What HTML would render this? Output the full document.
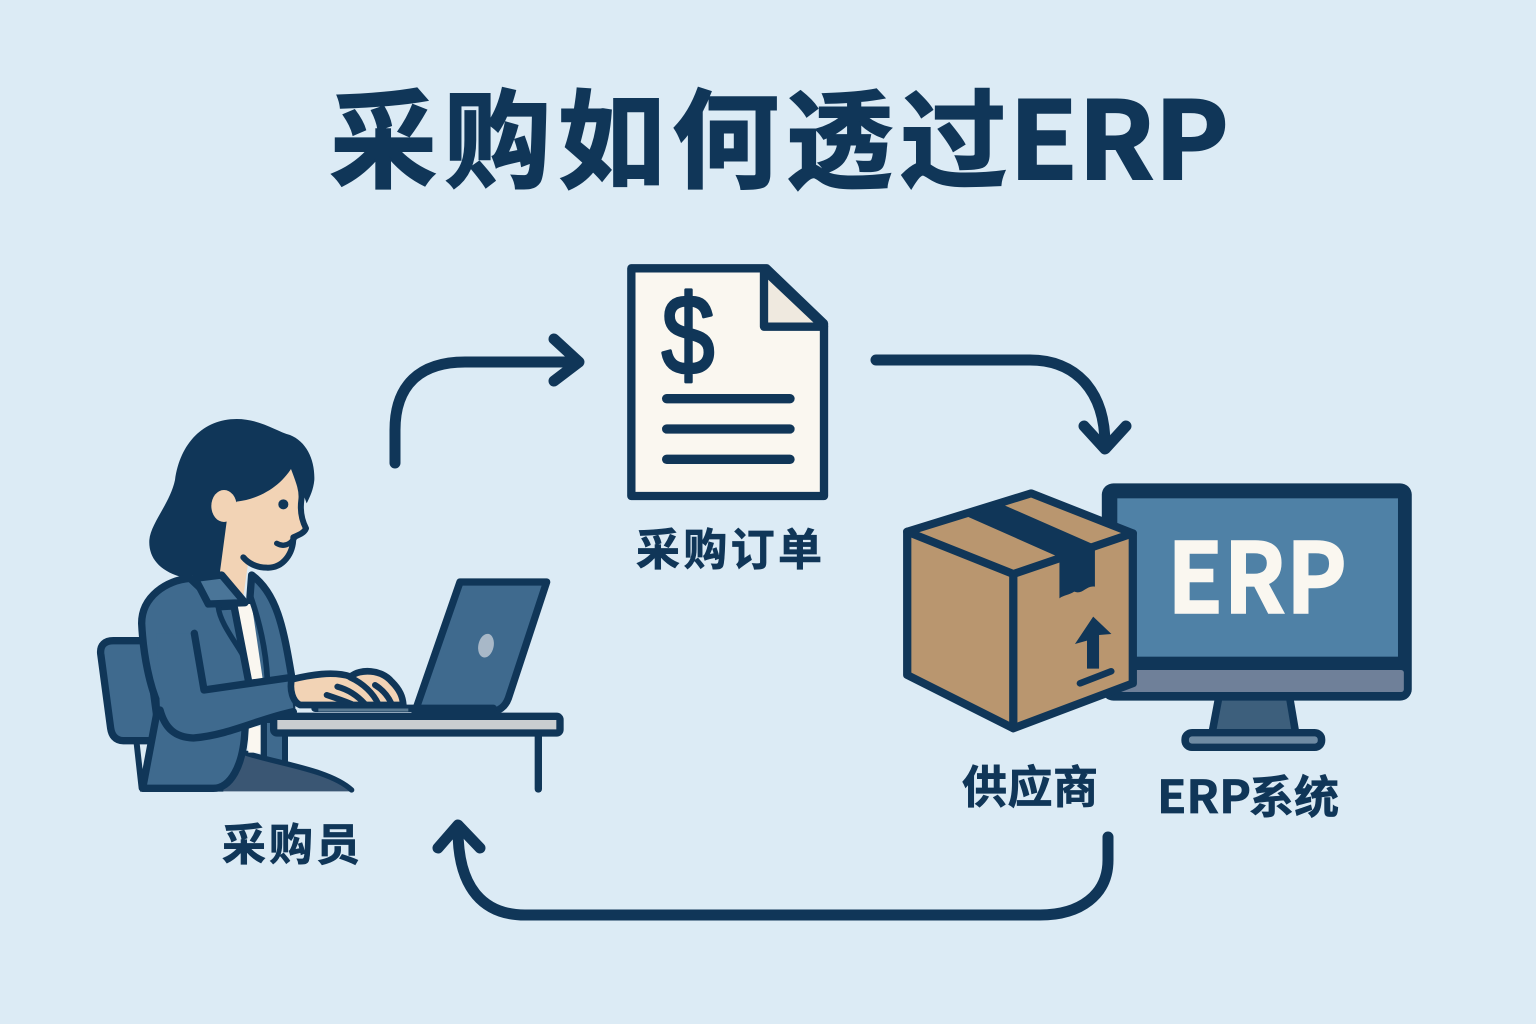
<!DOCTYPE html>
<html lang="zh-CN">
<head>
<meta charset="utf-8">
<title>采购如何透过ERP</title>
<style>
html,body{margin:0;padding:0;background:#dcebf5;width:1536px;height:1024px;overflow:hidden}
svg{display:block}
text{font-family:"Liberation Sans","Noto Sans CJK SC",sans-serif}
.c{font-family:"Noto Sans CJK SC","Liberation Sans",sans-serif;font-weight:700;fill:#103658;stroke:#103658;stroke-width:.7px}
.t{stroke-width:2px}
</style>
</head>
<body>
<svg xmlns="http://www.w3.org/2000/svg" width="1536" height="1024" viewBox="0 0 1536 1024">
<rect width="1536" height="1024" fill="#dcebf5"/>

<!-- title -->
<text class="c t" x="330" y="179" font-size="107" textLength="677" lengthAdjust="spacing">采购如何透过</text>
<text class="c t" x="1009" y="179" font-size="107" textLength="220" lengthAdjust="spacingAndGlyphs">ERP</text>

<!-- arrows -->
<g fill="none" stroke="#103658" stroke-width="11" stroke-linecap="round" stroke-linejoin="round">
<path d="M395,463 V430 C395,385 420,362 465,362 H575"/>
<path d="M554,339 L579,362 L554,381"/>
<path d="M876,360 H1030 C1075,360 1105,390 1105,445"/>
<path d="M1084,426 L1105,449 L1126,426"/>
<path d="M1108,837 V860 C1108,895 1080,915 1040,915 H525 C485,915 458,890 458,830"/>
<path d="M438,848 L458,825 L480,848"/>
</g>

<!-- document -->
<g transform="translate(610,250) scale(.33333)" stroke="#103658" stroke-linejoin="round" stroke-linecap="round">
<path d="M64,55 H470 L642,220 V738 H64 Z" fill="#faf7f0" stroke-width="25"/>
<path d="M462,60 V230 H642 Z" fill="#efe9df" stroke-width="25"/>
<g fill="none" stroke-width="28">
<path d="M170,446 H540"/>
<path d="M170,537 H540"/>
<path d="M170,628 H540"/>
</g>
</g>
<text transform="translate(688,374) scale(.84,1)" text-anchor="middle" font-size="113" fill="#103658" stroke="#103658" stroke-width="3.2" stroke-linejoin="round" style="font-family:'Liberation Sans',sans-serif">$</text>
<text class="c" x="636" y="565" font-size="44" textLength="186" lengthAdjust="spacing">采购订单</text>

<!-- person -->
<g transform="translate(80,400) scale(.33333)" stroke="#103658" stroke-width="22" stroke-linejoin="round" stroke-linecap="round">
<!-- chair -->
<path d="M62,760 C60,735 75,722 100,722 H200 L240,1022 H130 C105,1022 95,1005 92,985 Z" fill="#3f6a8e"/>
<path d="M170,1030 L185,1165" fill="none" stroke-width="18"/>
<!-- lower right jacket panel -->
<path d="M552,960 V1080 L615,1095 V960 Z" fill="#3f6a8e" stroke-width="18"/>
<!-- pants -->
<path d="M420,1174 L500,1058 C600,1092 750,1110 822,1174 Z" fill="#3a5673" stroke="none"/>
<path d="M500,1060 C600,1092 750,1110 815,1170" fill="none" stroke-width="16"/>
<!-- hair -->
<path d="M300,530 C235,510 205,470 208,420 C212,370 270,310 285,240 C300,130 370,57 470,57 C540,57 590,95 630,105 C680,125 705,180 703,240 C700,270 690,290 680,310 L640,200 L430,520 Z" fill="#103658" stroke="none"/>
<!-- neck and face -->
<path d="M640,195 C650,220 664,250 664,290 C655,320 662,350 675,385 L640,405 C640,460 610,505 560,503 C540,503 520,495 505,485 L490,590 L420,515 L440,365 L470,305 C550,295 610,250 640,195 Z" fill="#f2d3b5" stroke="none"/>
<path d="M640,200 C655,240 668,270 664,300 C660,330 665,360 678,385 C672,400 655,405 640,412 C640,460 610,505 560,503 C530,503 505,490 490,472" fill="none" stroke-width="18"/>
<path d="M590,430 C610,442 630,435 645,412" fill="none" stroke-width="16"/>
<ellipse cx="432" cy="318" rx="38" ry="48" fill="#f2d3b5" stroke="none"/>
<path d="M470,305 L440,365 L455,360 Z" fill="#f2d3b5" stroke="none"/>
<circle cx="610" cy="313" r="15" fill="#103658" stroke="none"/>
<!-- jacket right panel upper -->
<path d="M515,525 C590,580 610,680 635,830 V930 H510 V590 Z" fill="#3f6a8e"/>
<!-- shirt -->
<path d="M465,612 L515,612 L550,850 H505 Z" fill="#faf7f0" stroke="none"/>
<path d="M505,980 H542 V1058 H505 Z" fill="#faf7f0" stroke="none"/>
<path d="M512,590 C540,670 558,750 562,838" fill="none" stroke-width="17"/>
<path d="M550,975 V1070" fill="none" stroke-width="16"/>
<!-- jacket body -->
<path d="M330,535 C260,540 185,590 185,670 C190,770 210,860 235,915 L188,1165 H400 C450,1165 490,1100 495,990 L505,840 L462,618 L420,620 Z" fill="#3f6a8e"/>
<!-- collar -->
<path d="M345,535 L425,525 L495,608 L385,612 Z" fill="#4a7598"/>
<path d="M415,622 C420,670 470,730 492,772" fill="none" stroke-width="16"/>
<!-- sleeve -->
<path d="M343,700 L375,870 L632,832 L640,930 C560,950 480,1000 340,1012 C280,1012 255,980 240,930 L230,700 Z" fill="#3f6a8e" stroke="none"/>
<path d="M343,700 L372,870 L635,832" fill="none"/>
<path d="M240,930 C255,985 285,1012 340,1014 C450,1005 540,955 640,935" fill="none"/>
<!-- hand -->
<path d="M635,838 C690,825 760,812 812,830 C840,805 905,808 935,845 C960,870 968,890 970,915 H660 C638,905 628,870 635,838 Z" fill="#f2d3b5" stroke-width="20"/>
<g fill="none" stroke-width="18">
<path d="M740,885 C770,895 790,902 815,912"/>
<path d="M772,860 C810,870 835,890 855,912"/>
<path d="M810,832 C850,850 880,880 895,912"/>
<path d="M885,855 C910,870 925,890 935,912"/>
</g>
<!-- laptop lid -->
<path d="M1140,546 H1400 L1285,895 C1275,922 1255,935 1230,935 H1005 Z" fill="#3f6a8e"/>
<ellipse cx="1218" cy="737" rx="23" ry="36" transform="rotate(12 1218 737)" fill="#a8b8c8" stroke="none"/>
<!-- keyboard base -->
<path d="M705,925 H1240" fill="none" stroke-width="22"/>
<path d="M715,930 H985" fill="none" stroke="#5a7a92" stroke-width="9" stroke-linecap="butt"/>
<!-- desk -->
<rect x="581" y="949" width="859" height="50" rx="10" fill="#c9cdd0" stroke-width="22"/>
<path d="M1375,1005 V1167" fill="none"/>
<!-- seat line -->
<path d="M180,1165 H430" fill="none" stroke-width="20" stroke-linecap="butt"/>
</g>
<text class="c" x="222" y="860" font-size="44" textLength="138" lengthAdjust="spacing">采购员</text>

<!-- monitor -->
<g transform="translate(890,470) scale(.34440,.33333)" stroke-linejoin="round">
<path d="M955,680 L935,790 H1178 L1160,680 Z" fill="#3d5f7c" stroke="#103658" stroke-width="22"/>
<rect x="857" y="788" width="396" height="44" rx="20" fill="#6f8ba3" stroke="#103658" stroke-width="22"/>
<rect x="615" y="40" width="900" height="652" rx="34" fill="#103658"/>
<rect x="660" y="85" width="815" height="475" fill="#4f81a6"/>
<rect x="660" y="600" width="832" height="66" rx="8" fill="#6f8099"/>
</g>
<text class="c" x="1167" y="613" font-size="97" textLength="180" lengthAdjust="spacingAndGlyphs" style="fill:#faf7f0;stroke:#faf7f0;stroke-width:1.5px">ERP</text>

<!-- box -->
<g transform="translate(890,470) scale(.34440,.33333)" stroke="#103658" stroke-width="24" stroke-linejoin="round" stroke-linecap="round">
<path d="M50,185 L410,70 L705,190 V640 L358,775 L50,615 Z" fill="#b9966f"/>
<path d="M50,185 L358,312 L705,190" fill="none"/>
<path d="M358,312 V775" fill="none"/>
<path d="M225,140 L330,105 L595,225 V350 C570,345 560,375 535,365 C520,375 505,375 492,385 V262 Z" fill="#103658" stroke="none"/>
<path d="M590,440 L643,492 L607,495 V596 H572 V512 L537,522 Z" fill="#103658" stroke="none"/>
<path d="M552,640 L642,604" fill="none" stroke-width="20"/>
</g>

<text class="c" x="962" y="803" font-size="45" textLength="136" lengthAdjust="spacing">供应商</text>
<text class="c" x="1157" y="813" font-size="45" textLength="94" lengthAdjust="spacingAndGlyphs">ERP</text>
<text class="c" x="1249" y="813" font-size="45" textLength="90" lengthAdjust="spacing">系统</text>
</svg>
</body>
</html>
